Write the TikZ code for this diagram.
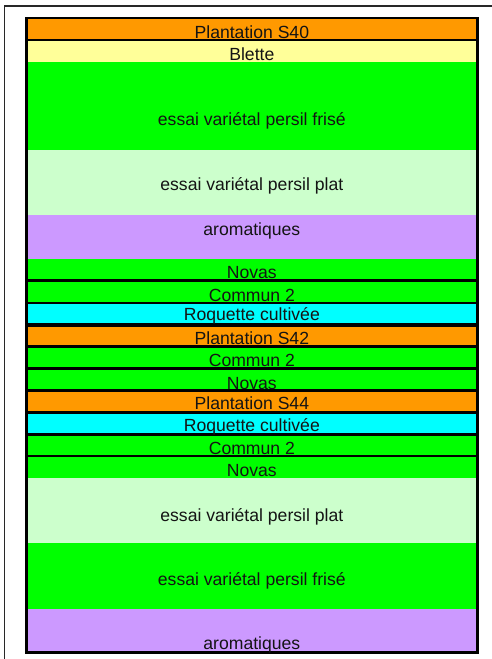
\documentclass[tikz,border=0pt]{standalone}
\usepackage{fontspec}
\setmainfont{Liberation Sans}
\usepackage{xcolor}
\usepackage{tikz}
\definecolor{plorange}{RGB}{255,153,0}
\definecolor{plyellow}{RGB}{255,255,153}
\definecolor{plgreen}{RGB}{0,255,0}
\definecolor{pllight}{RGB}{204,255,204}
\definecolor{plpurple}{RGB}{204,153,255}
\definecolor{plcyan}{RGB}{0,255,255}
\definecolor{pldark}{RGB}{20,20,20}
\definecolor{plgray}{RGB}{40,40,40}
\tikzset{
  framebox/.style={rectangle, fill=black, inner sep=0pt,
    minimum width=454pt, minimum height=637.6pt},
  band/.style={rectangle, inner sep=0pt, minimum width=447.7pt},
  lbl/.style={anchor=base, inner sep=0pt,
    font=\fontsize{17.6}{20}\selectfont, text=pldark},
  edge/.style={plgray, line width=1.4pt}
}

\begin{document}
\begin{tikzpicture}[x=1pt, y=-1pt]
  \useasboundingbox (0,0) rectangle (492,659);

  % page edge (top and left only)
  \coordinate (pgtop) at (492,5.8);
  \coordinate (pgbot) at (4.7,659);
  \draw[edge] (pgbot) |- (pgtop);

  % black frame behind the bands
  \node[framebox] (plot) at (252,335.5) {};

  % Bands, top to bottom
  \node[band, fill=plorange, minimum height=20pt] (s40) at (251.85,29) {};
  \node[band, fill=plyellow, minimum height=21pt] (blette) at (251.85,51.5) {};
  \node[band, fill=plgreen, minimum height=88pt] (frise1) at (251.85,106) {};
  \node[band, fill=pllight, minimum height=65pt] (plat1) at (251.85,182.5) {};
  \node[band, fill=plpurple, minimum height=44pt] (arom1) at (251.85,237) {};
  \node[band, fill=plgreen, minimum height=20pt] (novas1) at (251.85,269) {};
  \node[band, fill=plgreen, minimum height=20pt] (commun1) at (251.85,291.7) {};
  \node[band, fill=plcyan, minimum height=19pt] (roq1) at (251.85,313.2) {};
  \node[band, fill=plorange, minimum height=18.3pt] (s42) at (251.85,336.15) {};
  \node[band, fill=plgreen, minimum height=19.6pt] (commun2) at (251.85,357.5) {};
  \node[band, fill=plgreen, minimum height=19.6pt] (novas2) at (251.85,379.5) {};
  \node[band, fill=plorange, minimum height=19pt] (s44) at (251.85,401.2) {};
  \node[band, fill=plcyan, minimum height=19.3pt] (roq2) at (251.85,423.35) {};
  \node[band, fill=plgreen, minimum height=19pt] (commun3) at (251.85,445.2) {};
  \node[band, fill=plgreen, minimum height=21pt] (novas3) at (251.85,467.5) {};
  \node[band, fill=pllight, minimum height=65.3pt] (plat2) at (251.85,510.65) {};
  \node[band, fill=plgreen, minimum height=66pt] (frise2) at (251.85,576.3) {};
  \node[band, fill=plpurple, minimum height=41.4pt] (arom2) at (251.85,630) {};

  % Labels (sit low in each band)
  \node[lbl] (s40-t) at (251.85,38.5) {Plantation S40};
  \node[lbl] (blette-t) at (251.85,60) {Blette};
  \node[lbl] (frise1-t) at (251.85,125.7) {essai variétal persil frisé};
  \node[lbl] (plat1-t) at (251.85,190) {essai variétal persil plat};
  \node[lbl] (arom1-t) at (251.85,235) {aromatiques};
  \node[lbl] (novas1-t) at (251.85,278.3) {Novas};
  \node[lbl] (commun1-t) at (251.85,301) {Commun 2};
  \node[lbl] (roq1-t) at (251.85,320.7) {Roquette cultivée};
  \node[lbl] (s42-t) at (251.85,344) {Plantation S42};
  \node[lbl] (commun2-t) at (251.85,366.7) {Commun 2};
  \node[lbl] (novas2-t) at (251.85,389) {Novas};
  \node[lbl] (s44-t) at (251.85,409.3) {Plantation S44};
  \node[lbl] (roq2-t) at (251.85,431.7) {Roquette cultivée};
  \node[lbl] (commun3-t) at (251.85,454) {Commun 2};
  \node[lbl] (novas3-t) at (251.85,476) {Novas};
  \node[lbl] (plat2-t) at (251.85,521) {essai variétal persil plat};
  \node[lbl] (frise2-t) at (251.85,585.7) {essai variétal persil frisé};
  \node[lbl] (arom2-t) at (251.85,649.3) {aromatiques};
\end{tikzpicture}
\end{document}
